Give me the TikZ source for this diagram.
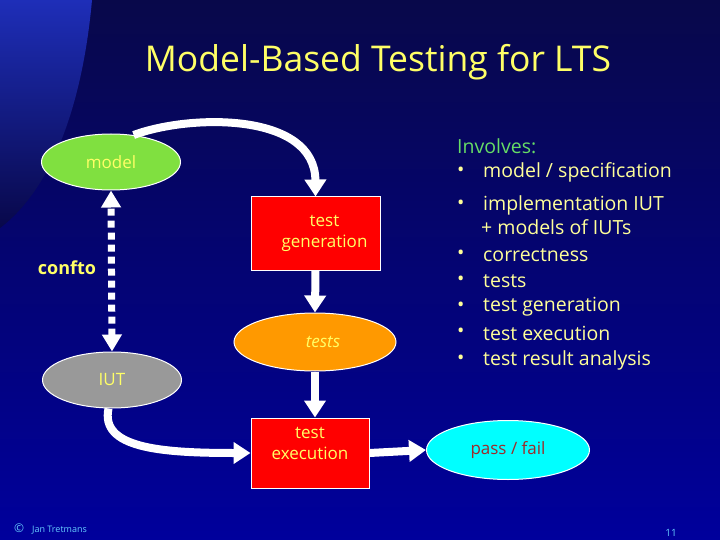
\documentclass[tikz,border=0pt]{standalone}
\usepackage{fontspec}
\setmainfont{Open Sans}
\usepackage{xcolor}
\definecolor{bgtop}{HTML}{08084A}
\definecolor{bgbottom}{HTML}{00009C}
\definecolor{swoosh}{HTML}{1E2EB8}
\definecolor{titleyellow}{HTML}{FFFF66}
\definecolor{textyellow}{HTML}{FFFF99}
\definecolor{involvegreen}{HTML}{66DD66}
\definecolor{modelgreen}{HTML}{80E040}
\definecolor{genred}{HTML}{FF0000}
\definecolor{testsorange}{HTML}{FF9900}
\definecolor{iutgrey}{HTML}{999999}
\definecolor{verdictcyan}{HTML}{00FFFF}
\definecolor{verdicttext}{HTML}{9E2A2A}
\definecolor{footblue}{HTML}{66CCFF}
\usepackage{tikz}
\usetikzlibrary{arrows.meta, shapes.geometric, calc}

\begin{document}
\begin{tikzpicture}[
  x=1pt, y=-1pt,
  oval/.style={
    ellipse, draw=white, line width=1pt, inner sep=0pt,
    minimum width=139pt, minimum height=56pt,
    font=\fontsize{17}{19}\selectfont, text=titleyellow
  },
  box/.style={
    rectangle, draw=white, line width=1pt, fill=genred, inner sep=0pt,
    align=center, font=\fontsize{17}{21}\selectfont, text=titleyellow
  },
  flow/.style={
    draw=white, line width=8pt,
    -{Triangle[width=21pt, length=17pt]}
  },
  conf/.style={
    draw=white, line width=7pt, dash pattern=on 7pt off 5pt,
    {Triangle[width=19pt, length=17pt]}-{Triangle[width=19pt, length=17pt]}
  },
  item/.style={
    anchor=west, text=textyellow, inner sep=0pt,
    font=\fontsize{19.5}{21}\selectfont
  }
]
  % background
  \useasboundingbox (0,0) rectangle (720,540);
  \shade[top color=bgtop, bottom color=bgbottom] (0,0) rectangle (720,540);
  \shade[top color=swoosh, bottom color=bgtop]
    (0,0) -- (92,0) .. controls (82,110) and (50,190) .. (0,228) -- cycle;

  \node[text=titleyellow, font=\fontsize{35.5}{38}\selectfont] (title)
    at (378,62) {Model-Based Testing for LTS};

  % diagram
  \node[oval, fill=modelgreen] (model) at (111,162) {model};
  \node[box, minimum width=129pt, minimum height=73pt] (gen) at (315.5,233.5)
    {\hspace*{18pt}test\\\hspace*{18pt}generation};
  \node[oval, fill=testsorange, minimum width=162pt, minimum height=58pt] (tests)
    at (315,342) {\itshape\hspace*{16pt}tests};
  \node[oval, fill=iutgrey] (iut) at (112,380) {IUT};
  \node[box, minimum width=118pt, minimum height=70pt] (exec) at (310,453)
    {test\\execution\\[-2pt]};
  \node[oval, fill=verdictcyan, minimum width=163pt, minimum height=59pt,
        text=verdicttext] (verdict) at (508,450) {pass / fail};

  \draw[flow] (model.50) .. controls (190,114) and (315,112) .. (gen.north);
  \draw[flow] (gen.south) -- (tests.north);
  \draw[flow] (tests.south) -- (tests.south |- exec.north);
  \draw[flow] (iut.263) .. controls (100,448) and (160,453) .. (exec.west);
  \draw[flow] (exec.east) -- (verdict.west);
  \draw[conf] (iut.north) -- (model.south);

  \node[text=titleyellow, font=\fontsize{18}{20}\selectfont\bfseries] (confto)
    at (67,268) {confto};

  % list on the right
  \node[anchor=west, text=involvegreen, inner sep=0pt,
        font=\fontsize{19.5}{21}\selectfont] (involves) at (457,146) {Involves:};
  \foreach \y/\txt [count=\i] in {172/model \slash{} specification,
      205/implementation IUT, 255/correctness, 281/tests,
      307/test generation, 333/test execution, 360/test result analysis} {
    \node[item] (dot\i) at (457,\y) {\textbullet};
    \node[item] (item\i) at (483,\y) {\txt};
  }
  \node[item] (plus) at (481,227) {+ models of IUTs};

  % footer
  \node[anchor=west, text=footblue, inner sep=0pt, font=\fontsize{9}{10}\selectfont]
    (author) at (14,529) {{\fontsize{12}{12}\selectfont\textcopyright}\hspace{8pt}Jan Tretmans};
  \node[text=footblue, inner sep=0pt, font=\fontsize{10}{11}\selectfont]
    (page) at (671,533) {11};
\end{tikzpicture}
\end{document}
